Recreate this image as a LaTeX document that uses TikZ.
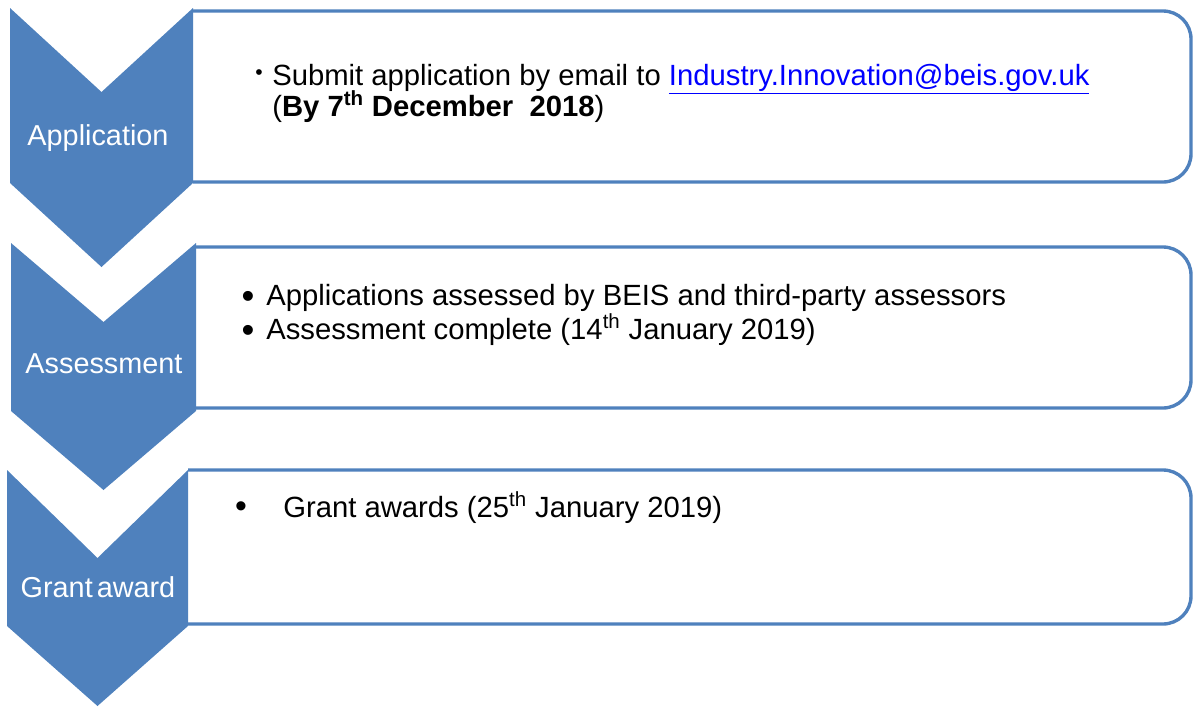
\documentclass[tikz,border=0pt]{standalone}
\usepackage{fontspec}
\setmainfont{Liberation Sans}
\definecolor{stepblue}{HTML}{4F81BD}
\definecolor{linkblue}{HTML}{0000FF}
\begin{document}
\begin{tikzpicture}[x=0.025cm,y=-0.025cm,
	chevron/.style={fill=stepblue,draw=none},
	panel/.style={draw=stepblue,fill=white,line width=2.4pt,rounded corners=0.7cm},
	steplabel/.style={text=white,anchor=base,inner sep=0pt,font=\fontsize{20.5}{24}\selectfont},
	item/.style={anchor=base west,inner sep=0pt,font=\fontsize{20.8}{24}\selectfont},
	dot/.style={inner sep=0pt,font=\fontsize{20.5}{24}\selectfont}]
	\useasboundingbox (0,0) rectangle (1193,706);
	% panels, the chevrons sit on their left edge
	\foreach \xl/\yt/\yb in {193/11/182,196/247/408,188/470/624}
		\draw[panel] (\xl,\yt) -- (1191,\yt) -- (1191,\yb) -- (\xl,\yb);
	\foreach \xl/\xr/\yt/\yb/\nd/\td in {10/193/8/183/84/84,11/196/243/411/79/79,7/188/470/626/88/80}
		\fill[chevron] (\xl,\yt) -- ({(\xl+\xr)/2},\yt+\nd) -- (\xr,\yt) -- (\xr,\yb)
			-- ({(\xl+\xr)/2},\yb+\td) -- (\xl,\yb) -- cycle;
	\node[steplabel] (lblapp) at (98,145) {Application};
	\node[steplabel] (lblassess) at (104,373) {Assessment};
	\node[steplabel] (lblgrant) at (98,597) {Grant\hspace{0.14em}award};
	% first panel
	\node[dot,font=\fontsize{15}{18}\selectfont] (b1) at (259,75) {•};
	\node[item] (submit) at (272,85) {Submit application by email to \textcolor{linkblue}{\underline{Industry.Innovation@beis.gov.uk}}};
	\node[item] (deadline) at (272,116) {(\textbf{By 7\textsuperscript{th} December\ \ 2018})};
	% second panel
	\node[dot,font=\fontsize{26}{30}\selectfont] (b2) at (248,300) {•};
	\node[dot,font=\fontsize{26}{30}\selectfont] (b3) at (248,334) {•};
	\node[item] (assessed) at (266,305) {Applications assessed by BEIS and third-party assessors};
	\node[item] (complete) at (266,339) {Assessment complete (14\textsuperscript{th} January 2019)};
	% third panel
	\node[dot,font=\fontsize{24}{28}\selectfont] (b4) at (241,510) {•};
	\node[item] (awards) at (283,517) {Grant awards (25\textsuperscript{th} January 2019)};
\end{tikzpicture}
\end{document}
